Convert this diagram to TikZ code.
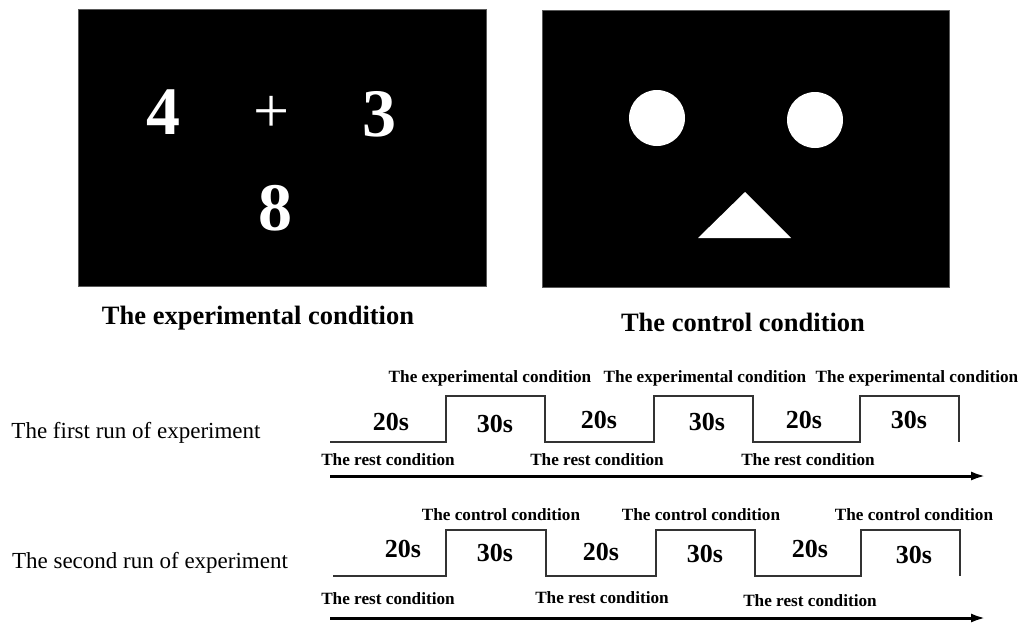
\documentclass[tikz,border=0pt]{standalone}
\usepackage{fontspec}
\setmainfont{Liberation Serif}
\usetikzlibrary{arrows.meta}

\begin{document}
\begin{tikzpicture}[
x=1pt, y=-1pt, % one unit = one pixel of the layout, y downwards
screen/.style={fill=black, draw=black!65, line width=0.8pt},
stim/.style={text=white, inner sep=0pt, font=\fontsize{68}{72}\selectfont\bfseries},
blob/.style={fill=white},
caption/.style={inner sep=0pt, font=\fontsize{26.5}{30}\selectfont\bfseries},
cond/.style={inner sep=0pt, font=\fontsize{17.2}{20}\selectfont\bfseries},
dur/.style={inner sep=0pt, font=\fontsize{26}{28}\selectfont\bfseries},
run/.style={inner sep=0pt, font=\fontsize{23}{26}\selectfont},
wave/.style={line width=1.3pt, black!80},
timeaxis/.style={line width=3pt, -{Latex[length=15pt,width=9pt]}}
]
\useasboundingbox (0,0) rectangle (1030,624);

% --- The experimental condition ---
\draw[screen] (78,9) rectangle (486,286);
\node[stim] (four) at (163,112) {4};
\node[stim, font=\fontsize{64}{70}\selectfont] (plus) at (272,114) {+};
\node[stim] (three) at (379,114) {3};
\node[stim] (eight) at (275,208) {8};
\node[caption] (expcap) at (258,318) {The experimental condition};

% --- The control condition ---
\draw[screen] (542,10) rectangle (949,287);
\fill[blob] (657,118) circle (28);
\fill[blob] (815,120) circle (28);
\fill[blob] (698,238) -- (745,192) -- (791,238) -- cycle;
\node[caption] (ctrlcap) at (743,322) {The control condition};

% --- First run ---
\node[run] (run1) at (136,433) {The first run of experiment};

\draw[wave] (330,442) -- (446,442) -- (446,396) -- (545,396) -- (545,442)
  -- (654,442) -- (654,396) -- (753,396) -- (753,442)
  -- (860,442) -- (860,396) -- (959,396) -- (959,442);

\node[dur] (a1) at (391,422) {20s};
\node[dur] (a2) at (495,424) {30s};
\node[dur] (a3) at (599,420) {20s};
\node[dur] (a4) at (707,422) {30s};
\node[dur] (a5) at (804,420) {20s};
\node[dur] (a6) at (909,420) {30s};

\node[cond] (e1) at (490,378) {The experimental condition};
\node[cond] (e2) at (705,378) {The experimental condition};
\node[cond] (e3) at (917,378) {The experimental condition};

\node[cond] (r1) at (388,460) {The rest condition};
\node[cond] (r2) at (597,460) {The rest condition};
\node[cond] (r3) at (808,460) {The rest condition};

\coordinate (t1s) at (330,476);
\coordinate (t1e) at (986,476);
\draw[timeaxis] (t1s) -- (t1e);

% --- Second run ---
\node[run] (run2) at (150,563) {The second run of experiment};

\draw[wave] (333,576) -- (446,576) -- (446,530) -- (546,530) -- (546,576)
  -- (656,576) -- (656,530) -- (755,530) -- (755,576)
  -- (861,576) -- (861,530) -- (960,530) -- (960,576);

\node[dur] (b1) at (403,549) {20s};
\node[dur] (b2) at (495,553) {30s};
\node[dur] (b3) at (601,552) {20s};
\node[dur] (b4) at (705,554) {30s};
\node[dur] (b5) at (810,549) {20s};
\node[dur] (b6) at (914,555) {30s};

\node[cond] (c1) at (501,515) {The control condition};
\node[cond] (c2) at (701,515) {The control condition};
\node[cond] (c3) at (914,515) {The control condition};

\node[cond] (s1) at (388,599) {The rest condition};
\node[cond] (s2) at (602,598) {The rest condition};
\node[cond] (s3) at (810,601) {The rest condition};

\coordinate (t2s) at (330,618);
\coordinate (t2e) at (986,618);
\draw[timeaxis] (t2s) -- (t2e);

\end{tikzpicture}
\end{document}
